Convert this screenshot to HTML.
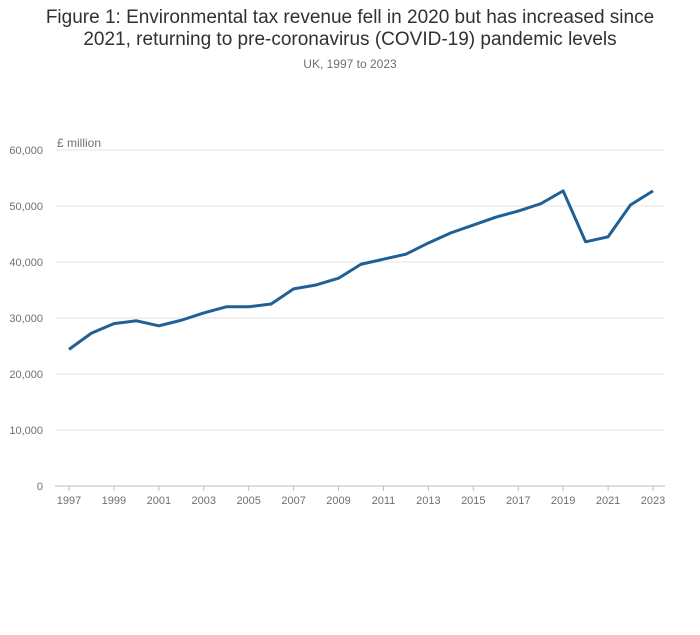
<!DOCTYPE html>
<html><head><meta charset="utf-8"><style>
body{margin:0;background:#fff;font-family:"Liberation Sans",sans-serif;}
#wrap{position:relative;width:700px;height:635px;}
h1{position:absolute;left:0;top:7px;width:700px;margin:0;text-align:center;font-size:19px;font-weight:normal;color:#323132;line-height:22px;}
.sub{position:absolute;left:0;top:57px;width:700px;text-align:center;font-size:12px;color:#707071;}
svg{position:absolute;left:0;top:0;}
</style></head><body>
<div id="wrap">
<h1>Figure 1: Environmental tax revenue fell in 2020 but has increased since<br>2021, returning to pre-coronavirus (COVID-19) pandemic levels</h1>
<div class="sub">UK, 1997 to 2023</div>
<svg id="chart" width="700" height="635"></svg>
</div>
<script>
const years=[1997,1998,1999,2000,2001,2002,2003,2004,2005,2006,2007,2008,2009,2010,2011,2012,2013,2014,2015,2016,2017,2018,2019,2020,2021,2022,2023];
const revenue=[24400,27300,29000,29500,28600,29600,30900,32000,32000,32500,35200,35900,37100,39600,40500,41400,43400,45200,46600,48000,49100,50400,52700,43600,44500,50200,52700];
const yTicks=[0,10000,20000,30000,40000,50000,60000];
const xTicks=[1997,1999,2001,2003,2005,2007,2009,2011,2013,2015,2017,2019,2021,2023];
const NS="http://www.w3.org/2000/svg";
const svg=document.getElementById('chart');
const x=v=>69+(v-1997)*(584/26);
const y=v=>486-v*(336/60000);
function el(t,a){const e=document.createElementNS(NS,t);for(const k in a)e.setAttribute(k,a[k]);svg.appendChild(e);return e;}
yTicks.forEach(t=>{
  const g=el('line',{x1:55,x2:665,y1:y(t),y2:y(t),stroke:t===0?'#bebebe':'#e5e5e5','stroke-width':1});
  
  
  const l=el('text',{x:43,y:y(t)+4,'text-anchor':'end','font-size':11,fill:'#707071'});
  l.textContent=t.toLocaleString('en-GB');
  
  
});
xTicks.forEach(t=>{
  const m=el('line',{x1:x(t),x2:x(t),y1:486,y2:491,stroke:'#bebebe'});
  
  
  const l=el('text',{x:x(t),y:504,'text-anchor':'middle','font-size':11,fill:'#707071'});
  l.textContent=t;
  
  
});
const u=el('text',{x:57,y:147,'font-size':12,fill:'#707071'});
u.textContent='£ million';


const p=el('path',{d:years.map((yr,i)=>(i?'L':'M')+x(yr)+','+y(revenue[i])).join(''),fill:'none',stroke:'#206095','stroke-width':3,'stroke-linejoin':'round'});


</script>
</body></html>
